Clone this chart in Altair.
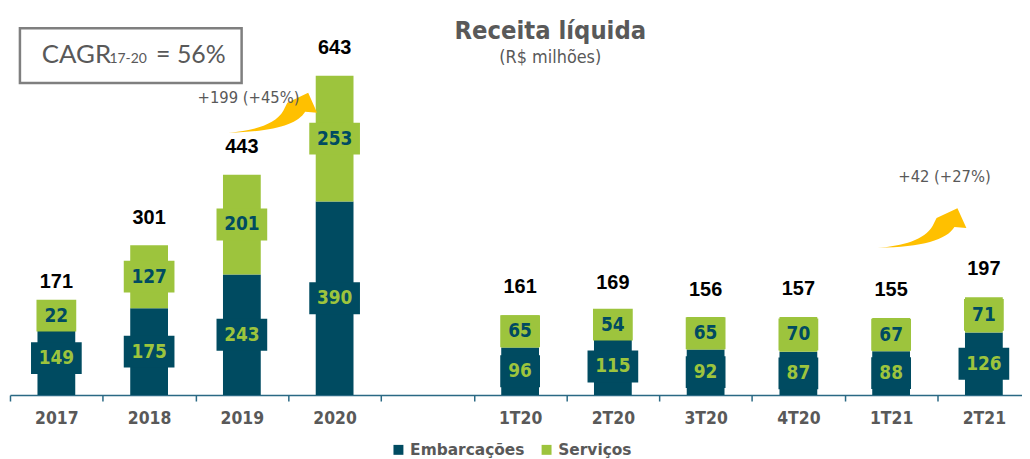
import altair as alt
import pandas as pd

# ---------------- data ----------------
categories = ["2017", "2018", "2019", "2020", " ", "1T20", "2T20", "3T20", "4T20", "1T21", "2T21"]
periods = ["2017", "2018", "2019", "2020", "1T20", "2T20", "3T20", "4T20", "1T21", "2T21"]
embarcacoes = [149, 175, 243, 390, 96, 115, 92, 87, 88, 126]
servicos = [22, 127, 201, 253, 65, 54, 65, 70, 67, 71]
totais = [171, 301, 443, 643, 161, 169, 156, 157, 155, 197]
series = ["Embarcações", "Serviços"]

DARK = "#004B61"
GREEN = "#9DC43D"
GRAY = "#595959"
AXC = "#2A6984"
GOLD = "#FFC000"
COND = "DejaVu Sans Condensed, DejaVu Sans"

rows = []
for p, e, s in zip(periods, embarcacoes, servicos):
    rows.append({"cat": p, "serie": series[0], "value": e, "ord": 0})
    rows.append({"cat": p, "serie": series[1], "value": s, "ord": 1})
df = pd.DataFrame(rows)
tot = pd.DataFrame({"cat": periods, "total": totais})

xscale = alt.Scale(domain=categories, range=[2, 2 + 11 * 93.3], paddingInner=0, paddingOuter=0)
yscale = alt.Scale(domain=[0, 777], nice=False, zero=True)

x_axis = alt.X(
    "cat:N", scale=xscale, sort=categories,
    axis=alt.Axis(title=None, tickBand="extent", labelAngle=0, labelFont=COND,
                  labelFontWeight="bold", labelFontSize=17.5, labelColor=GRAY,
                  domainColor=AXC, tickColor=AXC, domainWidth=1.5, tickWidth=1.5,
                  tickSize=6, labelPadding=9, grid=False),
)
x_plain = alt.X("cat:N", scale=xscale, sort=categories)

seg = alt.Chart(df).transform_stack(
    stack="value", groupby=["cat"], as_=["v0", "v1"],
    sort=[alt.SortField("ord", order="ascending")],
).transform_calculate(mid="(datum.v0 + datum.v1) / 2")

bars = seg.mark_bar(size=38).encode(
    x=x_axis,
    y=alt.Y("v1:Q", scale=yscale, axis=None),
    y2="v0:Q",
    color=alt.Color(
        "serie:N", scale=alt.Scale(domain=series, range=[DARK, GREEN]),
        legend=alt.Legend(orient="none", legendX=385, legendY=435, direction="horizontal",
                          title=None, symbolType="square", symbolSize=100,
                          labelFont="DejaVu Sans", labelFontWeight="bold", labelFontSize=15.5,
                          labelColor=GRAY, columnPadding=14, labelOffset=4, padding=0,
                          symbolStrokeWidth=0),
    ),
)

fill_cond = alt.condition(alt.datum.serie == series[0], alt.value(DARK), alt.value(GREEN))
text_cond = alt.condition(alt.datum.serie == series[0], alt.value(GREEN), alt.value(DARK))

BOX3 = "M-25.5,-16L25.5,-16L25.5,16L-25.5,16Z"
BOX2 = "M-20,-16L20,-16L20,16L-20,16Z"

boxes3 = seg.transform_filter("datum.value >= 100").mark_point(
    shape=BOX3, size=4, filled=True, opacity=1, strokeWidth=0
).encode(x=x_plain, y=alt.Y("mid:Q", scale=yscale), color=fill_cond)

boxes2 = seg.transform_filter("datum.value < 100").mark_point(
    shape=BOX2, size=4, filled=True, opacity=1, strokeWidth=0
).encode(x=x_plain, y=alt.Y("mid:Q", scale=yscale), color=fill_cond)

seg_text = seg.mark_text(font=COND, fontWeight="bold", fontSize=19, baseline="middle").encode(
    x=x_plain, y=alt.Y("mid:Q", scale=yscale), text="value:Q", color=text_cond
)

tot_text = alt.Chart(tot).mark_text(
    dy=-28, font="Liberation Sans", fontWeight="bold", fontSize=20, color="black", baseline="middle"
).encode(x=x_plain, y=alt.Y("total:Q", scale=yscale), text="total:Q")

# ---------------- annotations ----------------
one = pd.DataFrame({"k": [0]})
ARROW = "M-45,20C-20,18 2,12 10,-2L14,-10L35,-20L44,0L32,-1C24,12 0,19 -45,20Z"

arr1_df = pd.DataFrame({"cat": ["2019"], "v": [443], "label": ["+199 (+45%)"]})
arr2_df = pd.DataFrame({"cat": ["1T21"], "v": [155], "label": ["+42 (+27%)"]})

arrow1 = alt.Chart(arr1_df).mark_point(
    shape=ARROW, size=4, filled=True, opacity=1, strokeWidth=0, color=GOLD, xOffset=31.7, yOffset=-62.8
).encode(x=x_plain, y=alt.Y("v:Q", scale=yscale))
arrow2 = alt.Chart(arr2_df).mark_point(
    shape=ARROW, size=4, filled=True, opacity=1, strokeWidth=0, color=GOLD, xOffset=31.7, yOffset=-90.6
).encode(x=x_plain, y=alt.Y("v:Q", scale=yscale))

ann1 = alt.Chart(arr1_df).mark_text(
    font=COND, fontSize=16.5, color=GRAY, dx=6.7, dy=-77.8, baseline="middle"
).encode(x=x_plain, y=alt.Y("v:Q", scale=yscale), text="label:N")
ann2 = alt.Chart(arr2_df).mark_text(
    font=COND, fontSize=16.5, color=GRAY, dx=53.7, dy=-141.6, baseline="middle"
).encode(x=x_plain, y=alt.Y("v:Q", scale=yscale), text="label:N")

title = alt.Chart(one).mark_text(
    text="Receita líquida", font=COND, fontWeight="bold", fontSize=25.5, color=GRAY,
    align="center", baseline="alphabetic"
).encode(x=alt.value(545.5), y=alt.value(30.3))
subtitle = alt.Chart(one).mark_text(
    text="(R$ milhões)", font=COND, fontSize=18, color=GRAY,
    align="center", baseline="alphabetic"
).encode(x=alt.value(545.5), y=alt.value(54))

cagr_box = alt.Chart(one).mark_rect(
    fill="white", stroke="#7F7F7F", strokeWidth=2.5
).encode(x=alt.value(12), x2=alt.value(235), y=alt.value(19), y2=alt.value(74))
cagr1 = alt.Chart(one).mark_text(
    text="CAGR", font="Lato", fontSize=26, color=GRAY, align="left", baseline="alphabetic"
).encode(x=alt.value(34), y=alt.value(54))
cagr2 = alt.Chart(one).mark_text(
    text="17-20", font="Lato", fontSize=14, color=GRAY, align="left", baseline="alphabetic"
).encode(x=alt.value(102), y=alt.value(54))
cagr3 = alt.Chart(one).mark_text(
    text="= 56%", font="Lato", fontSize=25, color=GRAY, align="left", baseline="alphabetic"
).encode(x=alt.value(149), y=alt.value(54))

chart = alt.layer(
    bars, boxes3, boxes2, seg_text, tot_text,
    arrow1, arrow2, ann1, ann2,
    title, subtitle, cagr_box, cagr1, cagr2, cagr3,
).properties(
    width=1020, height=388,
    autosize=alt.AutoSizeParams(type="none"),
    padding={"left": 0, "top": 0, "right": 0, "bottom": 65},
).configure_view(stroke=None)

chart.save("out.html", embed_options={"renderer": "svg", "actions": False})
